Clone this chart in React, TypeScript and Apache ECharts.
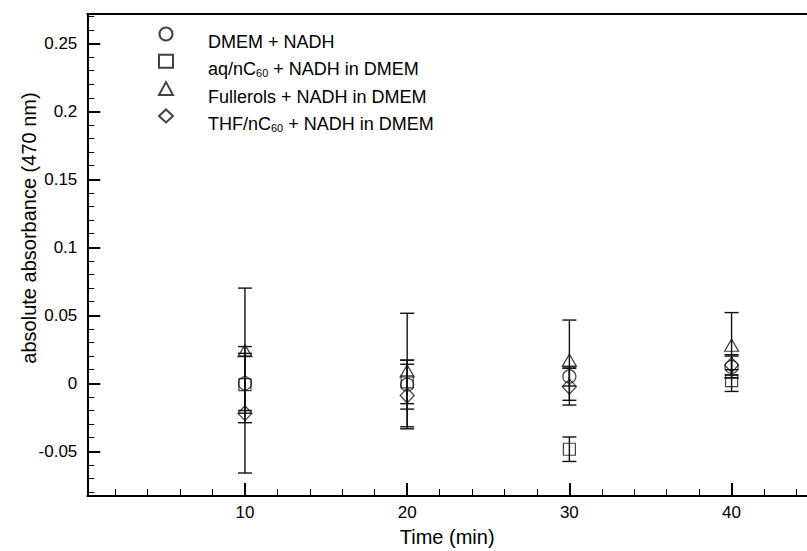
import { useEffect, useRef } from 'react';
import * as echarts from 'echarts';

// ---- data ----
const times = [10, 20, 30, 40];
const seriesNames = [
  'DMEM + NADH',
  'aq/nC60 + NADH in DMEM',
  'Fullerols + NADH in DMEM',
  'THF/nC60 + NADH in DMEM',
];
const dmemValues = [0.0, -0.001, 0.005, 0.012];
const dmemErrors = [0.02, 0.018, 0.007, 0.008];
const aqValues = [-0.001, 0.001, -0.0485, 0.002];
const aqErrors = [0.028, 0.016, 0.009, 0.008];
const fullerolValues = [0.024, 0.009, 0.017, 0.028];
const fullerolErrors = [0.046, 0.0425, 0.0295, 0.024];
const thfValues = [-0.022, -0.009, -0.0025, 0.0135];
const thfErrors = [0.044, 0.023, 0.0135, 0.0075];

const xMajorTicks = [10, 20, 30, 40];
const xMinorTicks = [2, 4, 6, 8, 12, 14, 16, 18, 22, 24, 26, 28, 32, 34, 36, 38, 42, 44];
const yMajorTicks = [-0.05, 0, 0.05, 0.1, 0.15, 0.2, 0.25];
const yMinorTicks = [
  -0.08, -0.07, -0.06, -0.04, -0.03, -0.02, -0.01, 0.01, 0.02, 0.03, 0.04, 0.06, 0.07, 0.08, 0.09,
  0.11, 0.12, 0.13, 0.14, 0.16, 0.17, 0.18, 0.19, 0.21, 0.22, 0.23, 0.24, 0.26, 0.27,
];
const xMin = 0.28;
const xMax = 44.65;
const yMin = -0.0829;
const yMax = 0.2716;

const FONT = 'Liberation Sans, Arial, Helvetica, sans-serif';
const INK = '#000';

const markerDefs = [
  { symbol: 'circle', size: 13 },
  { symbol: 'rect', size: 12 },
  { symbol: 'triangle', size: [14, 12] },
  { symbol: 'diamond', size: [14, 15] },
];

export default function App() {
  const ref = useRef<HTMLDivElement>(null);

  useEffect(() => {
    if (!ref.current) return;
    const chart = echarts.init(ref.current, undefined, { renderer: 'svg' });

    const values = [dmemValues, aqValues, fullerolValues, thfValues];
    const errors = [dmemErrors, aqErrors, fullerolErrors, thfErrors];

    const errorSeries = values.map((vals, si) => ({
      type: 'custom',
      name: 'err' + si,
      xAxisIndex: 0,
      yAxisIndex: 0,
      silent: true,
      z: 2,
      encode: { x: 0, y: [1, 2] },
      data: times.map((t, i) => [t, vals[i] - errors[si][i], vals[i] + errors[si][i]]),
      renderItem: (_params: any, api: any) => {
        const x = api.value(0);
        const lo = api.value(1);
        const hi = api.value(2);
        const a = api.coord([x, hi]);
        const b = api.coord([x, lo]);
        const w = 7;
        const style = { stroke: '#111', lineWidth: 1.4 };
        return {
          type: 'group',
          children: [
            { type: 'line', shape: { x1: a[0], y1: a[1], x2: b[0], y2: b[1] }, style },
            { type: 'line', shape: { x1: a[0] - w, y1: a[1], x2: a[0] + w, y2: a[1] }, style },
            { type: 'line', shape: { x1: b[0] - w, y1: b[1], x2: b[0] + w, y2: b[1] }, style },
          ],
        };
      },
    }));

    const scatterSeries = values.map((vals, si) => ({
      type: 'scatter',
      name: seriesNames[si],
      xAxisIndex: 0,
      yAxisIndex: 0,
      z: 3,
      symbol: markerDefs[si].symbol,
      symbolSize: markerDefs[si].size,
      itemStyle: { color: 'rgba(255,255,255,0)', borderColor: '#111', borderWidth: 1.2 },
      data: times.map((t, i) => [t, vals[i]]),
    }));

    const subFmt = (name: string) => name.replace('C60', 'C{s|60}');

    chart.setOption({
      animation: false,
      backgroundColor: '#fff',
      grid: { left: 87.3, top: 14, right: 0, bottom: 55, containLabel: false, outerBoundsMode: 'none' },
      legend: {
        orient: 'vertical',
        left: 153,
        top: 11,
        itemWidth: 14,
        itemHeight: 13,
        itemGap: -8.7,
        data: seriesNames,
        formatter: subFmt,
        textStyle: {
          fontFamily: FONT,
          fontSize: 18,
          color: INK,
          lineHeight: 20,
          padding: [16, 0, 0, 30],
          rich: {
            s: { fontFamily: FONT, fontSize: 11, lineHeight: 11, color: INK, padding: [8, 0, 0, 0] },
          },
        },
      },
      xAxis: [
        {
          type: 'value',
          position: 'bottom',
          min: xMin,
          max: xMax,
          name: 'Time (min)',
          nameLocation: 'middle',
          nameGap: 31,
          nameMoveOverlap: false,
          nameTextStyle: { fontFamily: FONT, fontSize: 20, color: INK },
          axisLine: { show: true, onZero: false, lineStyle: { color: INK, width: 2 } },
          axisTick: { show: true, inside: true, length: 13, customValues: xMajorTicks, lineStyle: { color: INK, width: 2 } },
          axisLabel: { customValues: xMajorTicks, fontFamily: FONT, fontSize: 17, color: INK, margin: 8 },
          splitLine: { show: false },
        },
        {
          type: 'value',
          position: 'bottom',
          min: xMin,
          max: xMax,
          axisLine: { show: false, onZero: false },
          axisTick: { show: true, inside: true, length: 7, customValues: xMinorTicks, lineStyle: { color: INK, width: 1 } },
          axisLabel: { show: false },
          splitLine: { show: false },
        },
        {
          type: 'value',
          position: 'top',
          min: xMin,
          max: xMax,
          axisLine: { show: true, onZero: false, lineStyle: { color: INK, width: 2 } },
          axisTick: { show: false },
          axisLabel: { show: false },
          splitLine: { show: false },
        },
      ],
      yAxis: [
        {
          type: 'value',
          position: 'left',
          min: yMin,
          max: yMax,
          name: 'absolute absorbance (470 nm)',
          nameLocation: 'middle',
          nameGap: 48,
          nameMoveOverlap: false,
          nameRotate: 90,
          nameTextStyle: { fontFamily: FONT, fontSize: 20, color: INK, padding: [0, 0, 0, 54] },
          axisLine: { show: true, onZero: false, lineStyle: { color: INK, width: 2 } },
          axisTick: { show: true, inside: true, length: 13, customValues: yMajorTicks, lineStyle: { color: INK, width: 2 } },
          axisLabel: {
            customValues: yMajorTicks,
            fontFamily: FONT,
            fontSize: 17,
            color: INK,
            margin: 10,
            formatter: (v: number) => String(v),
          },
          splitLine: { show: false },
        },
        {
          type: 'value',
          position: 'left',
          min: yMin,
          max: yMax,
          axisLine: { show: false, onZero: false },
          axisTick: { show: true, inside: true, length: 7, customValues: yMinorTicks, lineStyle: { color: INK, width: 1 } },
          axisLabel: { show: false },
          splitLine: { show: false },
        },
      ],
      series: [...errorSeries, ...scatterSeries],
    });

    return () => chart.dispose();
  }, []);

  return (
    <div
      ref={ref}
      style={{ position: 'fixed', left: 0, top: 0, width: 807, height: 551, background: '#fff' }}
    />
  );
}
